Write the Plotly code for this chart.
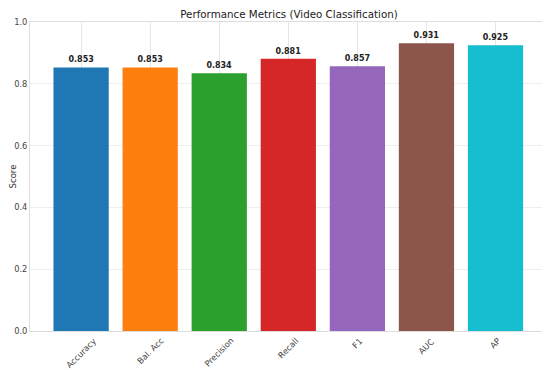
import plotly.graph_objects as go

metrics = ["Accuracy", "Bal. Acc", "Precision", "Recall", "F1", "AUC", "AP"]
scores = [0.853, 0.853, 0.834, 0.881, 0.857, 0.931, 0.925]
colors = ["#1f77b4", "#ff7f0e", "#2ca02c", "#d62728", "#9467bd", "#8c564b", "#17becf"]

xs = list(range(len(metrics)))

fig = go.Figure()
fig.add_trace(go.Bar(
    x=xs, y=scores, width=0.8,
    marker=dict(color=colors, line=dict(width=0)),
    text=[f"{v:.3f}" for v in scores], textposition="outside",
    textfont=dict(family="DejaVu Sans", size=8, color="#222222"),
    texttemplate="<b>%{text}</b>", cliponaxis=False,
))
# rotated category labels centred under each bar (matplotlib-style)
for xi, name in zip(xs, metrics):
    fig.add_annotation(
        x=xi, y=0, xref="x", yref="paper", text=name, textangle=-45,
        showarrow=False, xanchor="center", yanchor="top", yshift=-2,
        font=dict(family="DejaVu Sans", size=8.3, color="#444444"),
    )
# page body has an 8px margin, so the figure is sized to fill the rest of the window
fig.update_layout(
    width=542, height=362,
    margin=dict(l=22, r=2, t=14, b=39, autoexpand=False),
    paper_bgcolor="white", plot_bgcolor="white",
    font=dict(family="DejaVu Sans", color="#333333"),
    title=dict(text="Performance Metrics (Video Classification)", xref="paper", x=0.5,
               xanchor="center", yref="paper", y=1.0, yanchor="bottom", pad=dict(b=4),
               font=dict(size=10.3, color="#222222")),
    showlegend=False,
)
fig.update_xaxes(
    tickmode="array", tickvals=xs, ticktext=[""] * len(xs),
    automargin=False,
    range=[-0.74, 6.76], showgrid=True, gridcolor="#e6e6e6", gridwidth=1,
    showline=True, linecolor="#dddddd", mirror=True, ticks="", zeroline=False,
)
fig.update_yaxes(
    range=[0, 1.0], tickvals=[0, 0.2, 0.4, 0.6, 0.8, 1.0],
    ticktext=["0.0", "0.2", "0.4", "0.6", "0.8", "1.0"],
    tickfont=dict(size=8.3, color="#444444"), automargin=False,
    title=dict(text="Score", font=dict(size=8.5, color="#333333"), standoff=11),
    showgrid=True, gridcolor="#eeeeee", gridwidth=1,
    showline=True, linecolor="#dddddd", mirror=True, ticks="", zeroline=False,
)
fig.write_html("out.html")
